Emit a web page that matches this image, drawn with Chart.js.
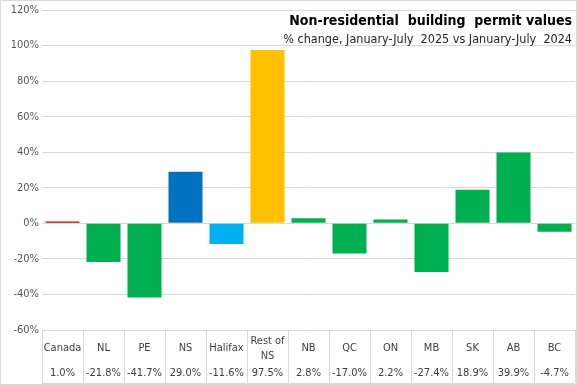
<!DOCTYPE html>
<html lang="en">
<head>
<meta charset="UTF-8">
<title>Non-residential building permit values</title>
<script src="https://cdn.jsdelivr.net/npm/chart.js"></script>
<style>
  body { margin: 0; background: #fff; }
</style>
</head>
<body>
<canvas id="chart" width="577" height="385"></canvas>
<script>
// data
const categories = ['Canada', 'NL', 'PE', 'NS', 'Halifax', ['Rest of', 'NS'], 'NB', 'QC', 'ON', 'MB', 'SK', 'AB', 'BC'];
const changes = [1.0, -21.8, -41.7, 29.0, -11.6, 97.5, 2.8, -17.0, 2.2, -27.4, 18.9, 39.9, -4.7];
const barColors = ['#C00000', '#00B050', '#00B050', '#0070C0', '#00B0F0', '#FFC000', '#00B050', '#00B050', '#00B050', '#00B050', '#00B050', '#00B050', '#00B050'];

const FONT = "'DejaVu Sans Condensed', 'Liberation Sans', sans-serif";
const GRID = '#d9d9d9';

// table under the plot with category names and values
const tablePlugin = {
  id: 'table',
  afterDraw(chart) {
    const ctx = chart.ctx;
    const area = chart.chartArea;
    const x = chart.scales.x;
    const w = (area.right - area.left) / categories.length;
    const top = area.bottom;
    const bottom = 383.5;
    ctx.save();
    ctx.strokeStyle = GRID;
    ctx.lineWidth = 1;
    for (let i = 0; i <= categories.length; i++) {
      const bx = Math.round(area.left + i * w) + 0.5;
      ctx.beginPath();
      ctx.moveTo(bx, top);
      ctx.lineTo(bx, bottom);
      ctx.stroke();
    }
    ctx.beginPath();
    ctx.moveTo(area.left, bottom);
    ctx.lineTo(area.right, bottom);
    ctx.stroke();

    ctx.fillStyle = '#404040';
    ctx.font = '11px ' + FONT;
    ctx.textAlign = 'center';
    ctx.textBaseline = 'middle';
    categories.forEach((c, i) => {
      const cx = x.getPixelForValue(i);
      if (Array.isArray(c)) {
        ctx.fillText(c[0], cx, 341);
        ctx.fillText(c[1], cx, 356);
      } else {
        ctx.fillText(c, cx, 348);
      }
      ctx.fillText(changes[i].toFixed(1) + '%', cx, 373);
    });

    // outer frame
    ctx.strokeStyle = GRID;
    ctx.strokeRect(0.5, 0.5, chart.width - 1, chart.height - 1);

    // title block
    ctx.fillStyle = '#000';
    ctx.textAlign = 'right';
    ctx.textBaseline = 'alphabetic';
    ctx.font = 'bold 14px ' + FONT;
    ctx.fillText('Non-residential  building  permit values', 572, 25);
    ctx.font = '12.5px ' + FONT;
    ctx.fillStyle = '#262626';
    ctx.fillText('% change, January-July  2025 vs January-July  2024', 572, 43);
    ctx.restore();
  }
};

new Chart(document.getElementById('chart'), {
  type: 'bar',
  data: {
    labels: categories,
    datasets: [{
      data: changes,
      backgroundColor: barColors,
      barPercentage: 0.83,
      categoryPercentage: 1.0
    }]
  },
  options: {
    responsive: false,
    animation: false,
    layout: { padding: { top: 10, bottom: 55, right: 2, left: 0 } },
    plugins: {
      legend: { display: false },
      tooltip: { enabled: false }
    },
    scales: {
      x: { display: false, grid: { display: false } },
      y: {
        min: -60,
        max: 120,
        ticks: {
          stepSize: 20,
          color: '#595959',
          font: { size: 11, family: FONT },
          callback: v => v + '%'
        },
        grid: { color: GRID, drawTicks: false },
        border: { display: false },
        afterFit(scale) { scale.width = 42; }
      }
    }
  },
  plugins: [tablePlugin]
});
</script>
</body>
</html>
